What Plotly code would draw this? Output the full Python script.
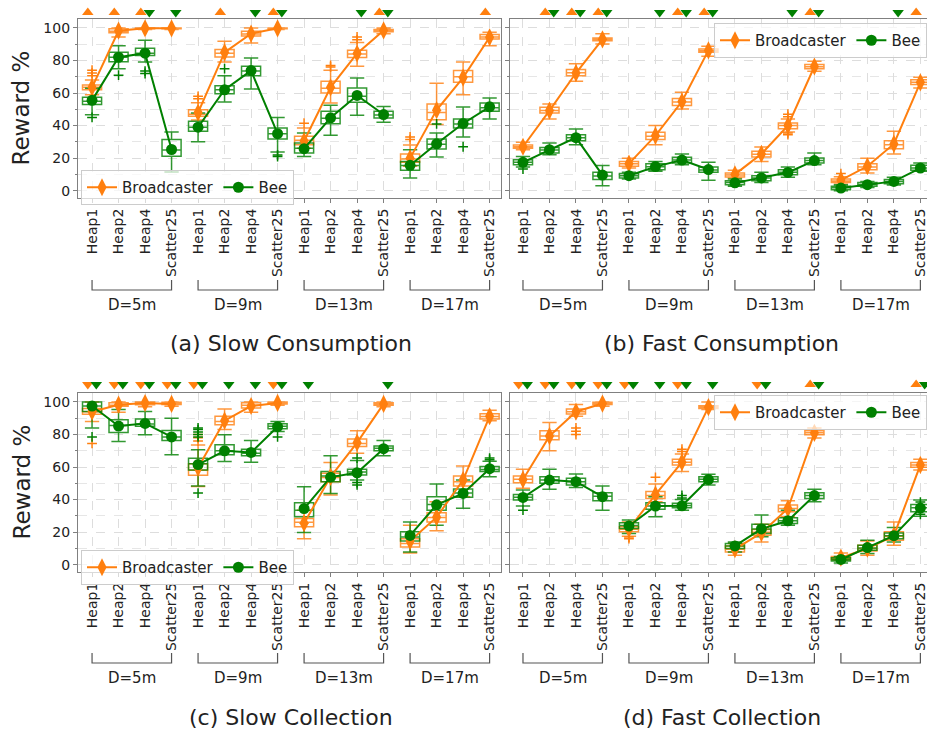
import plotly.graph_objects as go

# ---------------- data ----------------
CATEGORIES = ["Heap1", "Heap2", "Heap4", "Scatter25"]
DISTANCES = ["D=5m", "D=9m", "D=13m", "D=17m"]
TICK_LABELS = CATEGORIES * 4
PANEL_TITLES = ["(a) Slow Consumption", "(b) Fast Consumption",
                "(c) Slow Collection", "(d) Fast Collection"]
SERIES = ["Broadcaster", "Bee"]

# rows: (lower whisker, q1, median, q3, upper whisker, mean)
A_BROADCASTER = [
    (59, 62, 63.5, 65, 68, 63.5), (94.5, 97, 98, 99.5, 100, 98.3), (99, 99.5, 100, 100, 100, 99.8), (99, 99.5, 100, 100, 100, 99.8),
    (43.5, 45.7, 47, 49.8, 54, 48), (79, 82.2, 84.5, 86.7, 91.8, 85), (90.8, 95, 96.3, 98, 100, 96.5), (99, 99.5, 100, 100, 100, 99.8),
    (26, 28.3, 31, 33.4, 38.5, 30.5), (53.9, 60, 63, 67.2, 74, 63.5), (76.4, 81.8, 84, 86.3, 91, 84.3), (96.5, 97.7, 98.3, 99, 100, 98.5),
    (15, 17.4, 19.5, 22.5, 28, 20), (40.6, 43.6, 48, 53.3, 66, 49.5), (59, 66.6, 70, 73.8, 79, 69.5), (89.1, 93.2, 94.5, 95.9, 97.3, 94.3)]
A_BEE = [
    (46.7, 52.9, 55, 57.4, 63, 55.5), (75, 79.3, 82, 85, 89, 82), (79, 83, 84.5, 87.5, 92.4, 84.5), (11.5, 21.1, 25, 31.4, 36, 25.3),
    (30, 36.5, 39, 42.6, 47.7, 39), (54.5, 59.6, 62, 64.5, 70.7, 62), (62.5, 70.7, 73.5, 76.4, 81.6, 73.8), (23.8, 31.8, 35, 38.5, 45, 35),
    (21, 23.2, 26, 29.3, 35.5, 25.8), (34, 41.2, 44.5, 48.8, 52.5, 44.8), (46.3, 54.3, 58, 63.1, 69.3, 58.5), (42, 44.7, 46.5, 48.8, 51.8, 46.8),
    (7.8, 12.5, 15.5, 18, 25.2, 15.6), (20.7, 25.6, 28.5, 31.8, 35.5, 28.8), (33, 38.5, 41, 44, 51.4, 41.3), (44, 48.8, 51, 53.9, 57, 51.5)]
B_BROADCASTER = [
    (25.2, 26, 27, 28, 29.7, 27), (44, 47.7, 49.3, 51.2, 53.3, 49.2), (67.2, 70.7, 72.5, 74.4, 78, 72.3), (90.2, 92.2, 93, 93.9, 96.5, 93),
    (13.9, 15, 16.5, 18, 20, 16.6), (28.3, 31.4, 33.5, 35.9, 40, 33.8), (50.2, 52.3, 54.5, 56.6, 60.5, 54.8), (82.6, 85, 86, 87.1, 88.7, 86.2),
    (7.8, 8.4, 9.7, 10.9, 12.5, 10), (18, 20.7, 22.4, 24.2, 26.8, 22.6), (36, 38.1, 40, 41.6, 44, 40), (73.4, 75, 76.2, 77.5, 79.5, 76.3),
    (4.7, 5.1, 6, 7.2, 8.5, 6.5), (10.9, 12.9, 14.6, 16.6, 20, 15), (22.5, 25.8, 28.2, 30.7, 36.5, 28.7), (63.1, 65.2, 66.6, 68.2, 69.7, 66.6)]
B_BEE = [
    (14.5, 16, 17.5, 19, 21, 17.4), (22.1, 23.2, 25, 26.6, 29.3, 25.2), (28.3, 30.7, 32.5, 34.4, 37.9, 32.6), (3, 6.8, 9, 11.3, 15.4, 9.6),
    (7.2, 7.8, 9.2, 10.5, 11.3, 9.2), (11.9, 12.9, 14.7, 16.6, 18, 14.8), (16, 17, 18.8, 20.5, 22.5, 18.8), (6.4, 11.3, 12.7, 14.5, 17.4, 13),
    (2.7, 3.7, 5, 6.1, 7.2, 4.8), (5.1, 6.1, 7.8, 9.2, 11.3, 7.8), (8.2, 9.8, 11.3, 12.9, 14.5, 11.2), (16, 17, 18.6, 20.1, 23.2, 18.5),
    (0, 0.6, 1.8, 2.7, 3.7, 1.6), (2, 2.7, 3.8, 5.1, 5.7, 3.7), (3.5, 4.3, 5.6, 6.8, 8.2, 5.7), (11.9, 12.5, 14, 15.6, 17, 13.9)]
C_BROADCASTER = [
    (88, 92.5, 94, 96, 100, 94), (93.6, 97.3, 98, 99.5, 100, 98.3), (97, 98.3, 99, 100, 100, 99.3), (97.3, 98.4, 99, 99.8, 100, 98.8),
    (48, 55, 58, 62, 73.5, 59.5), (83, 86, 88, 91.2, 95.7, 88.5), (93.6, 96.3, 98, 99.5, 100, 97.5), (98, 98.8, 99.5, 100, 100, 99.4),
    (16, 23.3, 26, 28.4, 33.5, 25.5), (42.8, 51, 53.5, 56.2, 62.8, 54), (68.5, 72.6, 74.5, 77.2, 82.3, 75), (97, 98, 98.8, 99.5, 100, 98.8),
    (7.2, 10.9, 13, 16, 24.3, 14.5), (20.8, 26.3, 29, 31.9, 38.7, 29.2), (41.8, 48.4, 51, 54.5, 60.7, 52), (88.5, 89.5, 91, 92.8, 94.9, 91.2)]
C_BEE = [
    (84, 94.2, 97.5, 100, 100, 97.5), (75.7, 81.3, 85.5, 89.1, 95.3, 85.2), (79.8, 85, 86.5, 89.5, 94.2, 86.8), (67.5, 76.3, 78.5, 82.5, 90, 78.5),
    (48.4, 58.2, 62, 65.4, 70.6, 61.5), (63.4, 67.5, 70, 73.7, 79.8, 70), (63, 66.9, 68.5, 71, 76.3, 69), (81.9, 83.5, 85, 86.6, 88, 84.8),
    (19.8, 29.4, 33.5, 38, 47.9, 34.5), (43.8, 51, 54.5, 57.2, 66.9, 53.8), (52, 55.1, 57, 58.6, 64, 56.5), (66.9, 70, 71.5, 73, 76.3, 71.3),
    (7.8, 14.6, 17, 20.2, 26.3, 18), (24.3, 33.5, 37, 41.8, 49.6, 36.8), (34.6, 41.4, 44, 46.5, 52, 43.8), (54.1, 57.2, 58.5, 60.3, 63.5, 59)]
D_BROADCASTER = [
    (46.9, 50.4, 52.5, 54.5, 58.6, 52.3), (70, 76.7, 79, 82.3, 87.4, 79), (91.2, 92.6, 94, 95.7, 98.4, 94), (97.3, 98.4, 99, 99.8, 100, 99),
    (17.5, 20.2, 21.8, 23.3, 26.3, 22), (38.7, 40.7, 42.5, 44.9, 49.6, 43), (57.2, 61.3, 63, 64.8, 68, 63), (95.3, 95.9, 96.8, 97.7, 100, 96.8),
    (5.8, 7.8, 9.5, 11.5, 13, 9.5), (14, 18.1, 20, 21.6, 24.9, 19.5), (29.4, 32.5, 34.5, 36.6, 39.3, 34.5), (77.8, 79.8, 81, 82.3, 84, 81),
    (2.7, 3.1, 4, 5.1, 7.2, 4.3), (5.8, 8.4, 10, 11.9, 14.6, 9.9), (11.9, 15, 17.5, 20.2, 26.3, 17.8), (58.2, 59.9, 61.3, 62.8, 64.8, 61.3)]
D_BEE = [
    (36, 39.7, 41.5, 43.2, 45.9, 41.3), (46.3, 50, 52, 54.1, 58.6, 52), (47.5, 49, 51, 53.1, 55.8, 51), (33.5, 39.3, 42, 44.2, 48.4, 41.8),
    (19.1, 22.2, 24, 25.7, 27.4, 23.8), (29.4, 34, 36, 38, 41.8, 36), (33.5, 35, 36.3, 37.7, 40, 36.2), (49, 51, 52.5, 54.1, 55.6, 52.3),
    (7.8, 9.9, 11.5, 13, 14, 11.5), (17.1, 19.1, 22, 24.9, 30.5, 22), (24.3, 25.3, 27, 28.8, 33.5, 27), (38.7, 40.7, 42.5, 44.2, 46.3, 42.5),
    (1, 2.3, 3.2, 4.3, 5.1, 3.2), (6.8, 8.8, 10.3, 11.9, 15, 10.5), (14, 16, 17.8, 19.5, 22.8, 17.8), (29.8, 32.5, 35, 37, 39.7, 34.8)]

# outliers: (position index, value)
A_BROADCASTER_OUT = [(0, 70.7), (0, 72.3), (0, 74), (4, 56.5), (4, 58), (8, 41.5), (9, 76), (9, 77), (10, 92.8), (10, 94.5), (12, 31.4), (12, 33)]
A_BEE_OUT = [(0, 45), (1, 71), (2, 72), (2, 73.5), (5, 75), (7, 21), (7, 22), (13, 41), (14, 27)]
B_BROADCASTER_OUT = [(10, 34.4), (10, 35.5), (10, 45.5), (10, 47), (12, 10.5)]
B_BEE_OUT = [(0, 13.3)]
C_BROADCASTER_OUT = [(0, 74.5), (4, 76), (4, 78), (4, 80)]
C_BEE_OUT = [(0, 78.5), (4, 44), (4, 78.5), (4, 80), (4, 81.5), (4, 83), (4, 84), (7, 78.5), (10, 49), (10, 50.5), (10, 65.5), (15, 64.5), (15, 65.5)]
D_BROADCASTER_OUT = [(2, 80), (2, 82), (2, 84), (4, 16), (4, 17), (5, 53.7), (6, 69.5), (6, 71)]
D_BEE_OUT = [(0, 33.5), (6, 41), (6, 42.5), (15, 31), (15, 38.5)]

# significance markers (position indices)
A_BROADCASTER_UP = [0, 1, 2, 5, 7, 11, 15]
A_BROADCASTER_DOWN = []
A_BEE_DOWN = [2, 3, 6, 7, 10, 11]
B_BROADCASTER_UP = [1, 2, 3, 6, 7, 11, 15]
B_BROADCASTER_DOWN = []
B_BEE_DOWN = [1, 2, 3, 5, 6, 7, 10, 11, 14]
C_BROADCASTER_UP = []
C_BROADCASTER_DOWN = [0, 1, 2, 3, 4, 7]
C_BEE_DOWN = [0, 1, 2, 3, 4, 5, 6, 7, 8, 11]
D_BROADCASTER_UP = [11, 15]
D_BROADCASTER_DOWN = [0, 1, 2, 3, 4, 6, 9]
D_BEE_DOWN = [0, 1, 2, 3, 4, 5, 6, 7, 9, 11, 15]

# ---------------- styling / layout ----------------
W, H = 927, 732
ORANGE = "#ff7f0e"
GREEN = "#008000"
FONT = "DejaVu Sans"
TXT = "#222222"

COLS = [(78, 501), (510, 927)]
ROWS = [(19, 198), (393, 572)]
SIG_ROWS = [(5, 20), (377, 392)]
XRANGES = [[-0.53, 15.43], [-0.49, 15.25]]
YRANGE = [-4.5, 105.5]
SIG_DX = 0.16

panels = [
    (A_BROADCASTER, A_BEE, A_BROADCASTER_OUT, A_BEE_OUT, A_BROADCASTER_UP, A_BROADCASTER_DOWN, A_BEE_DOWN),
    (B_BROADCASTER, B_BEE, B_BROADCASTER_OUT, B_BEE_OUT, B_BROADCASTER_UP, B_BROADCASTER_DOWN, B_BEE_DOWN),
    (C_BROADCASTER, C_BEE, C_BROADCASTER_OUT, C_BEE_OUT, C_BROADCASTER_UP, C_BROADCASTER_DOWN, C_BEE_DOWN),
    (D_BROADCASTER, D_BEE, D_BROADCASTER_OUT, D_BEE_OUT, D_BROADCASTER_UP, D_BROADCASTER_DOWN, D_BEE_DOWN),
]

fig = go.Figure()
positions = list(range(len(TICK_LABELS)))


def gapped(values):
    xs, ys = [], []
    for g in range(4):
        for k in range(4):
            i = g * 4 + k
            xs.append(i)
            ys.append(values[i])
        xs.append(None)
        ys.append(None)
    return xs, ys


annotations = []
shapes = []
layout_axes = {}

for p, (br, be, br_out, be_out, br_up, br_down, be_down) in enumerate(panels):
    suf = "" if p == 0 else str(p + 1)
    xa, ya = "x" + suf, "y" + suf
    sx = "x" + str(p + 5)          # hidden x axis for the significance strip
    sy = "y" + str(5 + p // 2)     # hidden y axis for the significance strip
    legend_name = "legend" if p == 0 else "legend" + str(p + 1)
    col, row = p % 2, p // 2
    x0, x1 = COLS[col]
    y0, y1 = ROWS[row]

    for rows, color, name, sym, msize, outs in (
        (br, ORANGE, SERIES[0], "diamond-tall", 13, br_out),
        (be, GREEN, SERIES[1], "circle", 11, be_out),
    ):
        fig.add_trace(go.Box(
            x=positions,
            lowerfence=[r[0] for r in rows], q1=[r[1] for r in rows],
            median=[r[2] for r in rows], q3=[r[3] for r in rows],
            upperfence=[r[4] for r in rows],
            width=0.72, whiskerwidth=0.75,
            line=dict(color=color, width=1.5), fillcolor="rgba(0,0,0,0)",
            opacity=0.8,
            boxpoints=False, showlegend=False, hoverinfo="skip",
            xaxis=xa, yaxis=ya,
        ))
        if outs:
            fig.add_trace(go.Scatter(
                x=[o[0] for o in outs], y=[o[1] for o in outs], mode="markers",
                marker=dict(symbol="cross-thin", size=7, line=dict(width=1.5, color=color)),
                showlegend=False, hoverinfo="skip", xaxis=xa, yaxis=ya,
            ))
        gx, gy = gapped([r[5] for r in rows])
        fig.add_trace(go.Scatter(
            x=gx, y=gy, mode="lines+markers", name=name, connectgaps=False,
            line=dict(color=color, width=2),
            marker=dict(symbol=sym, size=msize, color=color),
            legend=legend_name, xaxis=xa, yaxis=ya,
        ))

    # significance markers above the plot
    for idx, sym, color, dx in ((br_up, "triangle-up", ORANGE, -SIG_DX),
                                (br_down, "triangle-down", ORANGE, -SIG_DX),
                                (be_down, "triangle-down", GREEN, SIG_DX)):
        if idx:
            fig.add_trace(go.Scatter(
                x=[i + dx for i in idx], y=[0.5] * len(idx), mode="markers",
                marker=dict(symbol=sym, size=10, color=color),
                cliponaxis=False, showlegend=False, hoverinfo="skip",
                xaxis=sx, yaxis=sy,
            ))

    # axes
    layout_axes["xaxis" + suf] = dict(
        domain=[x0 / W, x1 / W], anchor=ya, range=XRANGES[col],
        tickmode="array", tickvals=positions, ticktext=TICK_LABELS, tickangle=-90,
        tickfont=dict(size=14, color=TXT, family=FONT), ticklabeloverflow="allow",
        ticks="outside", ticklen=4, tickcolor="#808080",
        showline=True, linecolor="#808080", linewidth=1.2, mirror=True,
        showgrid=True, gridcolor="#dddddd", griddash="dash", gridwidth=1,
        zeroline=False,
    )
    layout_axes["yaxis" + suf] = dict(
        domain=[1 - y1 / H, 1 - y0 / H], anchor=xa, range=YRANGE,
        tickvals=[0, 20, 40, 60, 80, 100], showticklabels=(col == 0),
        tickfont=dict(size=14, color=TXT, family=FONT),
        ticks="outside", ticklen=4, tickcolor="#808080",
        minor=dict(dtick=10, tick0=0, ticks="outside", ticklen=2, tickcolor="#808080",
                   showgrid=True, gridcolor="#e6e6e6", griddash="dash"),
        showline=True, linecolor="#808080", linewidth=1.2, mirror=True,
        showgrid=True, gridcolor="#dddddd", griddash="dash", gridwidth=1,
        zeroline=False,
    )
    layout_axes["xaxis" + str(p + 5)] = dict(
        domain=[x0 / W, x1 / W], anchor=sy, range=XRANGES[col], visible=False,
        showgrid=False, zeroline=False, fixedrange=True,
    )

    # group brackets and labels
    br_tick = 280 if row == 0 else 653
    br_line = br_tick + 10
    lab_y = br_line + 15
    title_y = 343 if row == 0 else 717
    for g in range(4):
        a, b = positions[g * 4], positions[g * 4 + 3]
        shapes.append(dict(
            type="path", xref=xa, yref="paper",
            path=f"M {a},{1 - br_tick / H} L {a},{1 - br_line / H} L {b},{1 - br_line / H} L {b},{1 - br_tick / H}",
            line=dict(color="#555555", width=1.2),
        ))
        annotations.append(dict(
            x=(a + b) / 2, y=1 - lab_y / H, xref=xa, yref="paper", text=DISTANCES[g],
            showarrow=False, font=dict(size=15, color=TXT, family=FONT),
            xanchor="center", yanchor="middle",
        ))
    annotations.append(dict(
        x=7.5, y=1 - title_y / H, xref=xa, yref="paper", text=PANEL_TITLES[p],
        showarrow=False, font=dict(size=22, color=TXT, family=FONT),
        xanchor="center", yanchor="middle",
    ))
    if col == 0:
        annotations.append(dict(
            x=21 / W, y=1 - (y0 + y1) / 2 / H, xref="paper", yref="paper", text="Reward %",
            textangle=-90, showarrow=False, font=dict(size=23, color=TXT, family=FONT),
            xanchor="center", yanchor="middle",
        ))

for r, (t, b) in enumerate(SIG_ROWS):
    layout_axes["yaxis" + str(5 + r)] = dict(
        domain=[1 - b / H, 1 - t / H], anchor="x" + str(5 + 2 * r), range=[0, 1],
        visible=False, showgrid=False, zeroline=False, fixedrange=True,
    )

legend_style = dict(orientation="h", yanchor="top",
                    bgcolor="rgba(255,255,255,0.7)", bordercolor="#cccccc", borderwidth=1,
                    font=dict(size=15, color=TXT, family=FONT), itemwidth=30,
                    tracegroupgap=0)

fig.update_layout(
    width=W, height=H, margin=dict(l=0, r=0, t=0, b=0, autoexpand=False),
    paper_bgcolor="white", plot_bgcolor="rgba(0,0,0,0)",
    font=dict(family=FONT, color=TXT),
    boxmode="overlay",
    annotations=annotations, shapes=shapes,
    legend=dict(x=81 / W, y=1 - 170 / H, xanchor="left", **legend_style),
    legend2=dict(x=1.0, y=1 - 23 / H, xanchor="right", **legend_style),
    legend3=dict(x=81 / W, y=1 - 550 / H, xanchor="left", **legend_style),
    legend4=dict(x=1.0, y=1 - 395 / H, xanchor="right", **legend_style),
    **layout_axes,
)

fig.write_html(
    "out.html",
    config={"displayModeBar": False},
    post_script="document.body.style.margin='0';document.body.style.overflow='hidden';",
)
